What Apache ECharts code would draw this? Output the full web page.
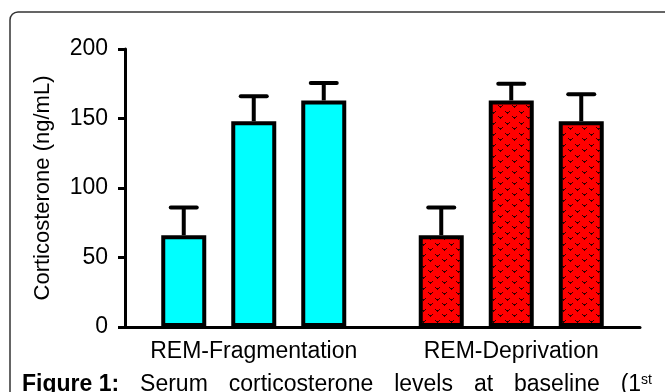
<!DOCTYPE html>
<html>
<head>
<meta charset="utf-8">
<script src="https://cdn.jsdelivr.net/npm/echarts@6/dist/echarts.min.js"></script>
<style>
html,body{margin:0;padding:0;background:#fff;}
#main{width:665px;height:392px;}
</style>
</head>
<body>
<div id="main"></div>
<script>
// ---- data ----
const categories = ['REM-Fragmentation', 'REM-Deprivation'];
const barA = [66, 66];
const barB = [148, 163];
const barC = [163, 148];
const errA = [20, 20];
const errB = [18, 12];
const errC = [12.5, 19.5];
const yTicks = [0, 50, 100, 150, 200];
const yTitle = 'Corticosterone (ng/mL)';
const captionBold = ['Figure 1:'];
const captionWords = ['Serum', 'corticosterone', 'levels', 'at', 'baseline', '(1'];
const captionSup = 'st';

// ---- styling ----
const FONT = '"Liberation Sans", Arial, sans-serif';
const BAR_W = 45;
const GAP_FRAC = 25 / 45;
const STEP = BAR_W * (1 + GAP_FRAC);

// patterned red fill
const pc = document.createElement('canvas');
pc.width = 14; pc.height = 11;
const g = pc.getContext('2d');
g.fillStyle = '#ff0000';
g.fillRect(0, 0, 14, 11);
g.fillStyle = '#300000';
function mark(x, y) {
  g.fillRect(x, y, 1, 1); g.fillRect(x + 4, y, 1, 1);
  g.fillRect(x + 1, y + 1, 3, 1);
  g.fillRect(x + 2, y + 2, 1, 1);
}
mark(1, 1);
mark(8, 6);
const redPattern = { image: pc, repeat: 'repeat' };
const groupColors = ['#00ffff', redPattern];

function barSeries(vals) {
  return {
    type: 'bar',
    barWidth: BAR_W,
    barGap: (GAP_FRAC * 100).toFixed(2) + '%',
    data: vals.map((v, i) => ({
      value: v,
      itemStyle: { color: groupColors[i], borderColor: '#000', borderWidth: 4 }
    })),
    z: 2
  };
}

function errSeries(vals, errs, idx) {
  const off = (idx - 1) * STEP;
  return {
    type: 'custom',
    z: 3,
    data: vals.map((v, i) => [i, v, v + errs[i]]),
    renderItem: function (params, api) {
      const b = api.coord([api.value(0), api.value(1)]);
      const t = api.coord([api.value(0), api.value(2)]);
      const x = b[0] + off;
      return {
        type: 'group',
        children: [
          { type: 'line', shape: { x1: x, y1: b[1], x2: x, y2: t[1] },
            style: { stroke: '#000', lineWidth: 4 } },
          { type: 'line', shape: { x1: x - 13, y1: t[1], x2: x + 13, y2: t[1] },
            style: { stroke: '#000', lineWidth: 4, lineCap: 'round' } }
        ]
      };
    }
  };
}

// justified caption line
const CAP_SIZE = 23, CAP_TOP = 373, CAP_L = 22, CAP_R = 652;
const mc = document.createElement('canvas').getContext('2d');
const pieces = [];
captionBold.forEach(w => pieces.push({ w, bold: true }));
captionWords.forEach(w => pieces.push({ w, bold: false }));
let total = 0;
pieces.forEach((p, i) => {
  mc.font = (p.bold ? 'bold ' : '') + CAP_SIZE + 'px ' + FONT;
  p.width = mc.measureText(p.w).width;
  if (i === pieces.length - 1) {
    mc.font = '14px ' + FONT;
    p.width += mc.measureText(captionSup).width;
  }
  total += p.width;
});
const gap = (CAP_R - CAP_L - total) / (pieces.length - 1);
let cx = CAP_L;
const captionGraphics = pieces.map((p, i) => {
  const el = {
    type: 'text', left: cx, top: CAP_TOP,
    style: i === pieces.length - 1 ? {
      text: '{a|' + p.w + '}{s|' + captionSup + '}',
      rich: {
        a: { font: CAP_SIZE + 'px ' + FONT, fill: '#000' },
        s: { font: '14px ' + FONT, fill: '#000', verticalAlign: 'top', padding: [0, 0, 8, 0] }
      }
    } : { text: p.w, font: (p.bold ? 'bold ' : '') + CAP_SIZE + 'px ' + FONT, fill: '#000' }
  };
  cx += p.width + gap;
  return el;
});

const chart = echarts.init(document.getElementById('main'), null, { renderer: 'canvas' });
chart.setOption({
  backgroundColor: '#fff',
  animation: false,
  grid: { left: 125, right: 25, top: 49, bottom: 65, containLabel: false },
  xAxis: {
    type: 'category',
    data: categories,
    axisLine: { lineStyle: { color: '#000', width: 3 } },
    axisTick: { alignWithLabel: true, length: 5, lineStyle: { color: '#000', width: 3 } },
    axisLabel: { color: '#000', fontSize: 23, fontFamily: FONT, margin: 13, interval: 0 }
  },
  yAxis: {
    type: 'value',
    min: yTicks[0], max: yTicks[yTicks.length - 1], interval: yTicks[1] - yTicks[0],
    name: yTitle,
    nameLocation: 'middle',
    nameGap: 71,
    nameRotate: 90,
    nameTextStyle: { color: '#000', fontSize: 22, fontFamily: FONT },
    axisLine: { show: true, lineStyle: { color: '#000', width: 3 } },
    axisTick: { show: true, length: 7, lineStyle: { color: '#000', width: 3 } },
    axisLabel: { color: '#000', fontSize: 23, fontFamily: FONT, margin: 17 },
    splitLine: { show: false }
  },
  graphic: [
    { type: 'rect', shape: { x: 10, y: 12, width: 690, height: 440, r: 8 },
      style: { fill: 'none', stroke: '#333', lineWidth: 1.5 }, z: 0 }
  ].concat(captionGraphics),
  series: [
    barSeries(barA), barSeries(barB), barSeries(barC),
    errSeries(barA, errA, 0), errSeries(barB, errB, 1), errSeries(barC, errC, 2)
  ]
});
</script>
</body>
</html>
